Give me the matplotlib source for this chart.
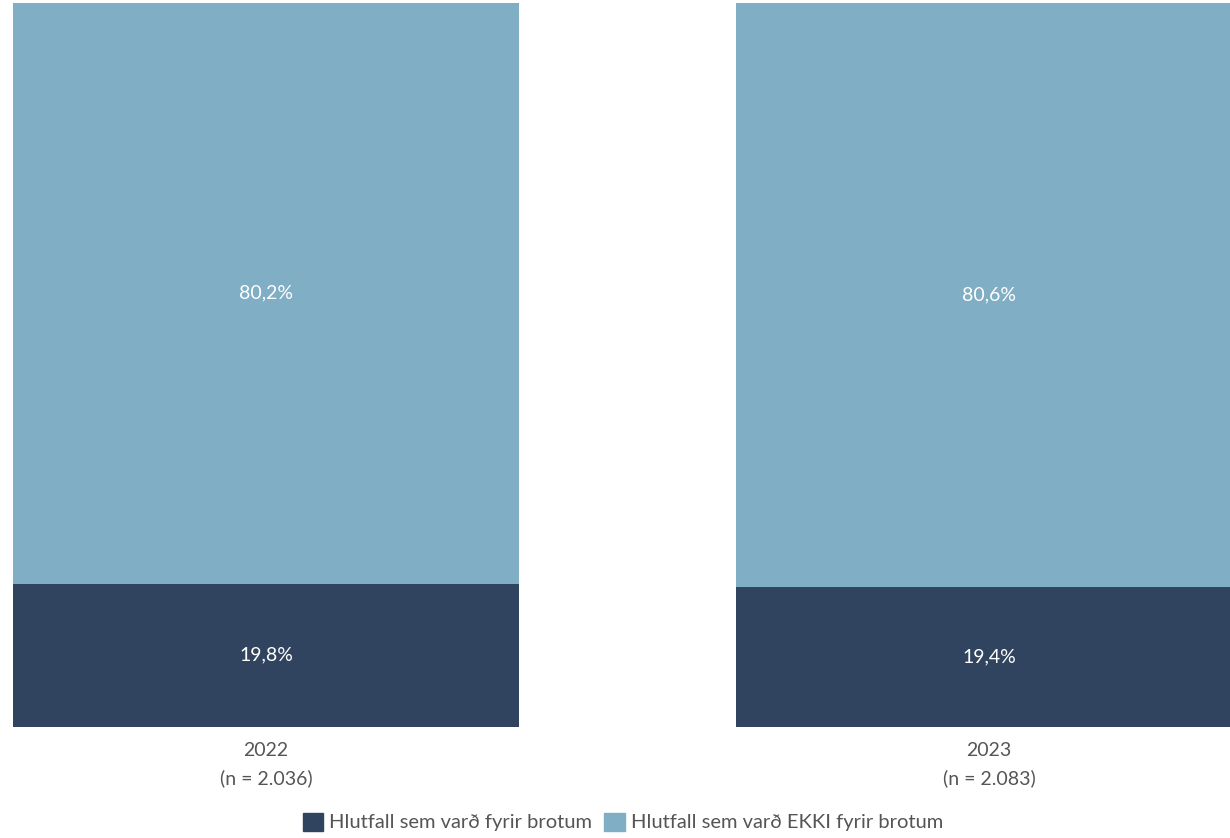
import matplotlib
matplotlib.use("Agg")
import matplotlib.pyplot as plt
from matplotlib.patches import Patch

years = ["2022", "2023"]
n_labels = ["(n = 2.036)", "(n = 2.083)"]
victim = [19.8, 19.4]
not_victim = [80.2, 80.6]

dark = "#31445f"
light = "#80aec4"
text_gray = "#555555"

plt.rcParams["font.family"] = ["Lato", "DejaVu Sans"]

fig = plt.figure(figsize=(12.3, 8.38), dpi=100)
ax = fig.add_axes([13 / 1230, 111 / 838, 1 - 13 / 1230, (727 - 3) / 838])

x = [0, 1]
width = 0.70
ax.bar(x, victim, width=width, color=dark)
ax.bar(x, not_victim, width=width, bottom=victim, color=light)

for i in x:
    ax.text(i, victim[i] / 2, f"{victim[i]:.1f}%".replace(".", ","),
            ha="center", va="center", color="white", fontsize=14)
    ax.text(i, victim[i] + not_victim[i] / 2, f"{not_victim[i]:.1f}%".replace(".", ","),
            ha="center", va="center", color="white", fontsize=14)

ax.set_xlim(-0.35, 1.333)
ax.set_ylim(0, 100)
ax.set_xticks(x)
ax.set_xticklabels([f"{y}\n{n}" for y, n in zip(years, n_labels)],
                   color=text_gray, fontsize=14, linespacing=1.7)
ax.tick_params(axis="x", length=0, pad=11)
ax.set_yticks([])
for s in ax.spines.values():
    s.set_visible(False)

handles = [Patch(color=dark, label="Hlutfall sem varð fyrir brotum"),
           Patch(color=light, label="Hlutfall sem varð EKKI fyrir brotum")]
fig.legend(handles=handles, loc="center", bbox_to_anchor=(623 / 1230, 1 - 822 / 838),
           ncol=2, frameon=False, fontsize=14.5, labelcolor=text_gray,
           handlelength=1.0, handleheight=1.0, handletextpad=0.3, columnspacing=0.6)

fig.savefig("out.png", dpi=100)
